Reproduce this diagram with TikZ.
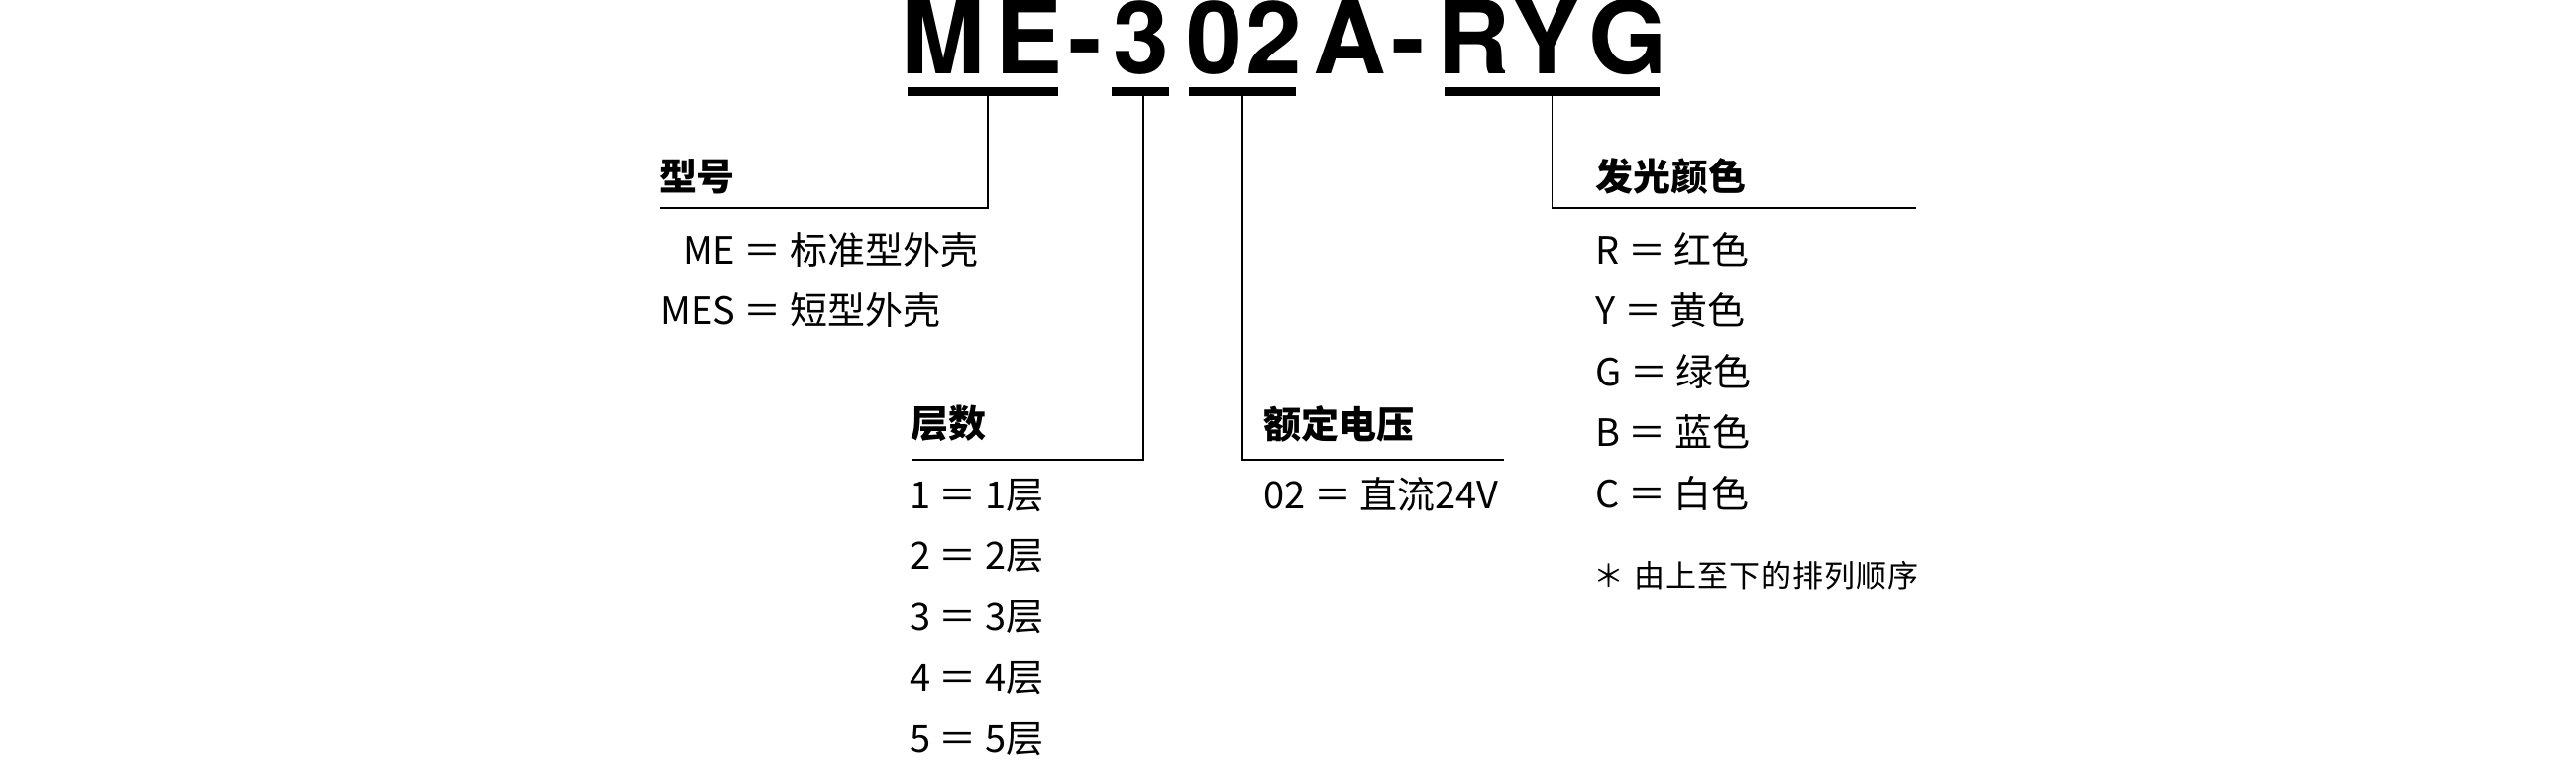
\documentclass[tikz,border=0pt]{standalone}
\usepackage{fontspec}
\setmainfont{Noto Sans CJK SC}
\newfontfamily\titlefont{TeX Gyre Heros}
\newcommand\lsp{\kern0.5pt}
\begin{document}
\begin{tikzpicture}[x=0.5pt,y=-0.5pt,
  titletext/.style={font=\titlefont\bfseries\fontsize{51pt}{60pt}\selectfont, inner sep=0pt, anchor=base west},
  uline/.style={fill=black, draw=none, inner sep=0pt, minimum height=4.5pt},
  conn/.style={line width=0.75pt, black},
  head/.style={font=\bfseries\fontsize{19pt}{23pt}\selectfont, inner sep=0pt, anchor=base west},
  item/.style={font=\fontsize{19pt}{23pt}\selectfont, inner sep=0pt, anchor=base west},
  notetext/.style={font=\fontsize{15.5pt}{19pt}\selectfont, inner sep=0pt, anchor=base west}]
\useasboundingbox (0,0) rectangle (2600,770);
\fill[white] (0,0) rectangle (2600,770);

% title
\node[titletext] (title) at (909,75)
  {M\kern5.35pt E\kern2.9pt -\kern5.3pt 3\kern8.9pt 0\kern1.65pt 2\kern5.2pt A\kern3.1pt -\kern6.05pt R\kern0.9pt Y\kern4.45pt G};

% underlines
\node[uline, minimum width=76pt]    (uME)  at (992,92.5) {};
\node[uline, minimum width=29pt]    (u3)   at (1151,92.5) {};
\node[uline, minimum width=54pt]    (u02)  at (1254,92.5) {};
\node[uline, minimum width=108.5pt] (uRYG) at (1566.5,92.5) {};

% connector ends
\coordinate (eME)  at (666,210);
\coordinate (e3)   at (920,464);
\coordinate (e02)  at (1518,464);
\coordinate (eRYG) at (1934,210);

\draw[conn] ([xshift=2.5pt]uME.south) |- (eME);
\draw[conn] ([xshift=1.5pt]u3.south) |- (e3);
\draw[conn] (u02.south) |- (e02);
\draw[conn] (uRYG.south) |- (eRYG);

% model
\node[head] (hType) at (665,193) {型号};
\node[item] (iME)  at (666,266) {\phantom{S}ME ＝ 标准型外壳};
\node[item] (iMES) at (666,327.5) {MES ＝ 短型外壳};

% tiers
\node[head] (hTier) at (919,441) {层数};
\node[item] (t1) at (918,513)   {1 ＝ 1层};
\node[item] (t2) at (918,574.5) {2 ＝ 2层};
\node[item] (t3) at (918,636)   {3 ＝ 3层};
\node[item] (t4) at (918,697.5) {4 ＝ 4层};
\node[item] (t5) at (918,759)   {5 ＝ 5层};

% voltage
\node[head] (hVolt) at (1275,442) {额定电压};
\node[item] (v02) at (1275,513) {02 ＝ 直流24V};

% colours
\node[head] (hCol) at (1610,193) {发光颜色};
\node[item] (cR) at (1610,266)   {R ＝ 红色};
\node[item] (cY) at (1610,327.5) {Y ＝ 黄色};
\node[item] (cG) at (1610,389)   {G ＝ 绿色};
\node[item] (cB) at (1610,450.5) {B ＝ 蓝色};
\node[item] (cC) at (1610,512)   {C ＝ 白色};
\node[notetext] (note) at (1608,592)
  {＊\kern5pt 由\lsp 上\lsp 至\lsp 下\lsp 的\lsp 排\lsp 列\lsp 顺\lsp 序};
\end{tikzpicture}
\end{document}
